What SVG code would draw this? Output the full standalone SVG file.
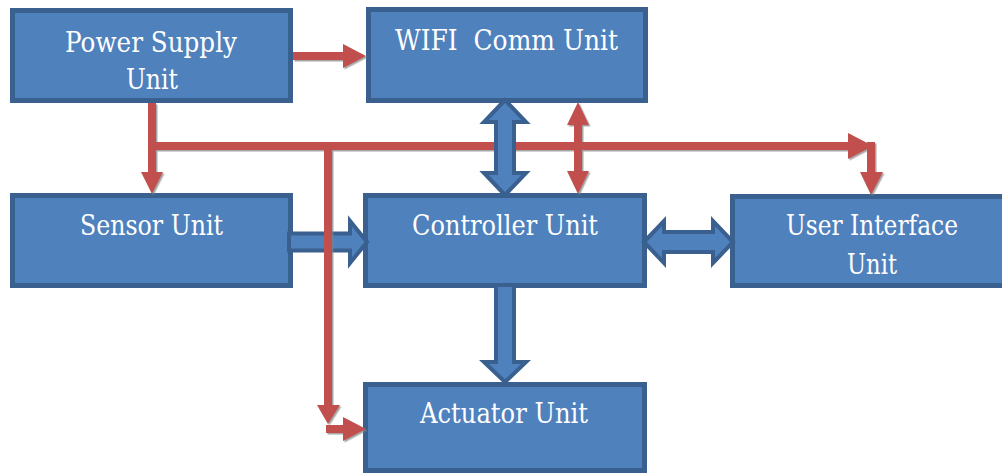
<svg xmlns="http://www.w3.org/2000/svg" width="1002" height="473" viewBox="0 0 1002 473">
<style>
.box{fill:#4f81bd;stroke:#3a6090;stroke-width:5}
.lbl{font-family:'DejaVu Serif','Liberation Serif',serif;font-size:28px;fill:#ffffff;text-anchor:middle;white-space:pre}
.barrow{fill:#4f81bd;stroke:#3a6090;stroke-width:4;stroke-linejoin:miter}
.rline{stroke:#c0504d;stroke-width:8;fill:none}
.rhead{fill:#c0504d}
</style>
<defs>
<filter id="sh" x="-20%" y="-20%" width="140%" height="140%">
<feDropShadow dx="1.5" dy="1.5" stdDeviation="0.6" flood-color="#808080" flood-opacity="0.7"/>
</filter>
</defs>
<rect width="1002" height="473" fill="#ffffff"/>
<g id="power">
<rect class="box" x="12.5" y="10.5" width="278" height="90"/>
<text class="lbl" x="151" y="52" textLength="172" lengthAdjust="spacingAndGlyphs">Power Supply</text>
<text class="lbl" x="152" y="89" textLength="52" lengthAdjust="spacingAndGlyphs">Unit</text>
</g>
<g id="wifi">
<rect class="box" x="368.5" y="9.5" width="277" height="91"/>
<text class="lbl" x="506.5" y="50" textLength="223" lengthAdjust="spacingAndGlyphs">WIFI  Comm Unit</text>
</g>
<g id="sensor">
<rect class="box" x="12.5" y="195.5" width="278" height="90"/>
<text class="lbl" x="151.5" y="235" textLength="143" lengthAdjust="spacingAndGlyphs">Sensor Unit</text>
</g>
<g id="controller">
<rect class="box" x="365.5" y="195.5" width="279" height="90"/>
<text class="lbl" x="505" y="235" textLength="186" lengthAdjust="spacingAndGlyphs">Controller Unit</text>
</g>
<g id="ui">
<rect class="box" x="732.5" y="196.5" width="282" height="89"/>
<text class="lbl" x="872" y="235" textLength="172" lengthAdjust="spacingAndGlyphs">User Interface</text>
<text class="lbl" x="872" y="274" textLength="50" lengthAdjust="spacingAndGlyphs">Unit</text>
</g>
<g id="actuator">
<rect class="box" x="365.5" y="384.5" width="279" height="86"/>
<text class="lbl" x="504" y="423" textLength="168" lengthAdjust="spacingAndGlyphs">Actuator Unit</text>
</g>
<g id="connectors">
<polygon class="barrow" points="289,233.5 350,233.5 350,221 367,242 350,263 350,250.5 289,250.5"/>
<g filter="url(#sh)">
<line class="rline" x1="293" y1="56" x2="345" y2="56"/>
<polygon class="rhead" points="343,44 366,56 343,68"/>
<line class="rline" x1="152" y1="103" x2="152" y2="174"/>
<polygon class="rhead" points="141,172 163,172 152,194"/>
<line class="rline" x1="152" y1="146" x2="850" y2="146"/>
<polygon class="rhead" points="848,133 873,146 848,159"/>
<line class="rline" x1="871" y1="142" x2="871" y2="174"/>
<polygon class="rhead" points="860,172 883,172 871,195"/>
<line class="rline" x1="328" y1="146" x2="328" y2="408"/>
<polygon class="rhead" points="317,405 340,405 328,424"/>
<line class="rline" x1="326" y1="429" x2="345" y2="429"/>
<polygon class="rhead" points="343,417 366,429 343,441"/>
<line class="rline" x1="578" y1="122" x2="578" y2="175"/>
<polygon class="rhead" points="578,102 567,125 589,125"/>
<polygon class="rhead" points="578,194 567,171 589,171"/>
</g>
<polygon class="barrow" points="505,100 526,122 514,122 514,173 526,173 505,195 484,173 496,173 496,122 484,122"/>
<polygon class="barrow" points="644,242 664,221 664,232 713,232 713,221 733,242 713,263 713,252 664,252 664,263"/>
<polygon class="barrow" points="496,285 514,285 514,362 526,362 505,382 484,362 496,362"/>
</g>
</svg>
